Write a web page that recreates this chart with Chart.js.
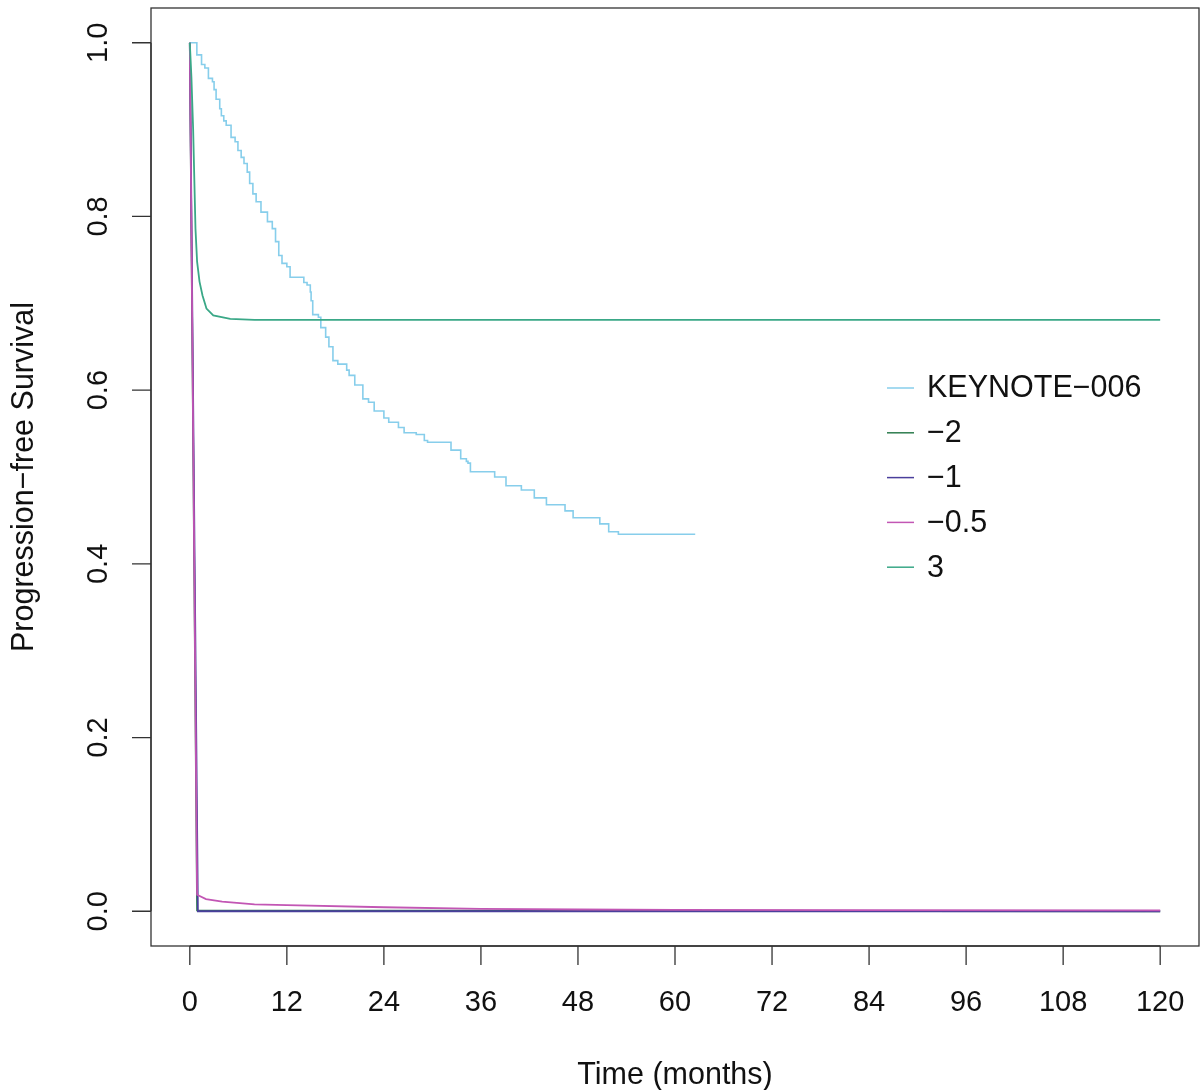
<!DOCTYPE html>
<html>
<head>
<meta charset="utf-8">
<script src="https://cdn.jsdelivr.net/npm/chart.js@4"></script>
<style>
  body { margin: 0; background: #fff; }
  #wrap { width: 1203px; height: 1090px; }
</style>
</head>
<body>
<div id="wrap"><canvas id="km-chart"></canvas></div>
<script>
// KEYNOTE-006 Kaplan-Meier steps (months, survival)
var kmTime = [0, 0.87, 1.45, 1.86, 2.3, 2.8, 3.0, 3.25, 3.7, 3.9, 4.2, 4.5, 5.1, 5.6, 5.95, 6.35, 6.7, 7.1, 7.4, 7.8, 8.2, 8.8, 9.6, 10.2, 10.6, 11.0, 11.4, 12.0, 12.4, 14.1, 14.5, 14.9, 15.0, 15.2, 15.9, 16.2, 16.8, 17.2, 17.7, 18.3, 19.4, 19.7, 20.4, 21.4, 22.1, 22.8, 24.0, 24.6, 25.8, 26.5, 28.0, 29.0, 29.4, 32.3, 33.5, 34.2, 34.4, 34.7, 37.7, 39.1, 41.0, 42.6, 44.1, 46.4, 47.4, 50.7, 51.8, 53.0, 62.5];
var kmSurv = [1.0, 0.986, 0.975, 0.971, 0.959, 0.955, 0.946, 0.935, 0.924, 0.916, 0.910, 0.905, 0.891, 0.886, 0.876, 0.868, 0.861, 0.851, 0.838, 0.826, 0.817, 0.805, 0.794, 0.786, 0.771, 0.755, 0.746, 0.742, 0.730, 0.724, 0.721, 0.713, 0.703, 0.687, 0.684, 0.672, 0.661, 0.650, 0.634, 0.630, 0.623, 0.617, 0.606, 0.590, 0.586, 0.576, 0.568, 0.563, 0.557, 0.551, 0.549, 0.542, 0.540, 0.531, 0.521, 0.518, 0.516, 0.506, 0.500, 0.490, 0.485, 0.476, 0.468, 0.461, 0.453, 0.446, 0.437, 0.434, 0.434];

// extrapolated curves
var mTwoTime = [0, 0.9, 120];
var mTwoSurv = [1.0, 0.001, 0.0];
var mOneTime = [0, 1.0, 120];
var mOneSurv = [1.0, 0.0, 0.0];
var mHalfTime = [0, 0.9, 2, 4, 8, 12, 24, 36, 48, 60, 84, 120];
var mHalfSurv = [1.0, 0.019, 0.014, 0.011, 0.008, 0.007, 0.0046, 0.0028, 0.002, 0.0016, 0.0012, 0.001];
var threeTime = [0, 0.2, 0.41, 0.7, 0.9, 1.2, 1.57, 2.06, 2.9, 5, 8, 120];
var threeSurv = [1.0, 0.96, 0.901, 0.786, 0.748, 0.725, 0.709, 0.694, 0.686, 0.682, 0.681, 0.681];

var xTicks = [0, 12, 24, 36, 48, 60, 72, 84, 96, 108, 120];
var yTicks = [0.0, 0.2, 0.4, 0.6, 0.8, 1.0];

function toPoints(xs, ys) {
    return xs.map(function(x, i) { return { x: x, y: ys[i] }; });
}

// later series are drawn on top, like base R lines()
function series(label, xs, ys, color, width, stepped, order) {
    return {
        label: label,
        data: toPoints(xs, ys),
        borderColor: color,
        borderWidth: width,
        pointRadius: 0,
        tension: 0,
        stepped: stepped,
        fill: false,
        order: order
    };
}

var font = '"Liberation Sans", Arial, sans-serif';

// R-style box, axes, titles and legend
var rAxes = {
    id: 'rAxes',
    afterDraw: function(chart) {
        var ctx = chart.ctx, a = chart.chartArea;
        var xs = chart.scales.x, ys = chart.scales.y;
        ctx.save();
        ctx.strokeStyle = '#333';
        ctx.lineWidth = 1.3;
        ctx.strokeRect(a.left, a.top, a.right - a.left, a.bottom - a.top);

        ctx.fillStyle = '#111';
        ctx.font = '29px ' + font;
        // x axis
        ctx.beginPath();
        ctx.moveTo(xs.getPixelForValue(xTicks[0]), a.bottom);
        ctx.lineTo(xs.getPixelForValue(xTicks[xTicks.length - 1]), a.bottom);
        xTicks.forEach(function(t) {
            var px = xs.getPixelForValue(t);
            ctx.moveTo(px, a.bottom);
            ctx.lineTo(px, a.bottom + 19);
        });
        ctx.stroke();
        ctx.textAlign = 'center';
        ctx.textBaseline = 'middle';
        xTicks.forEach(function(t) {
            ctx.fillText(String(t), xs.getPixelForValue(t), a.bottom + 57);
        });
        // y axis
        ctx.beginPath();
        ctx.moveTo(a.left, ys.getPixelForValue(yTicks[0]));
        ctx.lineTo(a.left, ys.getPixelForValue(yTicks[yTicks.length - 1]));
        yTicks.forEach(function(v) {
            var py = ys.getPixelForValue(v);
            ctx.moveTo(a.left, py);
            ctx.lineTo(a.left - 19, py);
        });
        ctx.stroke();
        yTicks.forEach(function(v) {
            ctx.save();
            ctx.translate(a.left - 52, ys.getPixelForValue(v));
            ctx.rotate(-Math.PI / 2);
            ctx.fillText(v.toFixed(1), 0, 0);
            ctx.restore();
        });
        // titles
        ctx.font = '30.5px ' + font;
        ctx.fillText('Time (months)', (a.left + a.right) / 2, a.bottom + 130);
        ctx.save();
        ctx.translate(25, (a.top + a.bottom) / 2);
        ctx.rotate(-Math.PI / 2);
        ctx.fillText('Progression\u2212free Survival', 0, 0);
        ctx.restore();

        // legend
        ctx.textAlign = 'left';
        chart.data.datasets.forEach(function(ds, i) {
            var y = 388 + i * 44.8;
            ctx.strokeStyle = ds.borderColor;
            ctx.lineWidth = 1.5;
            ctx.beginPath();
            ctx.moveTo(887, y);
            ctx.lineTo(914, y);
            ctx.stroke();
            ctx.fillStyle = '#111';
            ctx.fillText(ds.label, 927, y + 1);
        });
        ctx.restore();
    }
};

var ctx = document.getElementById('km-chart').getContext('2d');
new Chart(ctx, {
    type: 'line',
    data: {
        datasets: [
            series('KEYNOTE\u2212006', kmTime, kmSurv, '#87ceeb', 1.6, true, 5),
            series('\u22122', mTwoTime, mTwoSurv, '#2e7d4f', 1.8, false, 4),
            series('\u22121', mOneTime, mOneSurv, '#4a3f9c', 1.8, false, 3),
            series('\u22120.5', mHalfTime, mHalfSurv, '#c256b4', 1.8, false, 2),
            series('3', threeTime, threeSurv, '#3aa887', 1.8, false, 1)
        ]
    },
    options: {
        responsive: true,
        maintainAspectRatio: false,
        animation: false,
        layout: { padding: { left: 151, right: 4, top: 8, bottom: 144 } },
        plugins: { legend: { display: false }, tooltip: { enabled: false } },
        scales: {
            x: { type: 'linear', min: -4.8, max: 124.8, display: false },
            y: { type: 'linear', min: -0.04, max: 1.04, display: false }
        }
    },
    plugins: [rAxes]
});
</script>
</body>
</html>
